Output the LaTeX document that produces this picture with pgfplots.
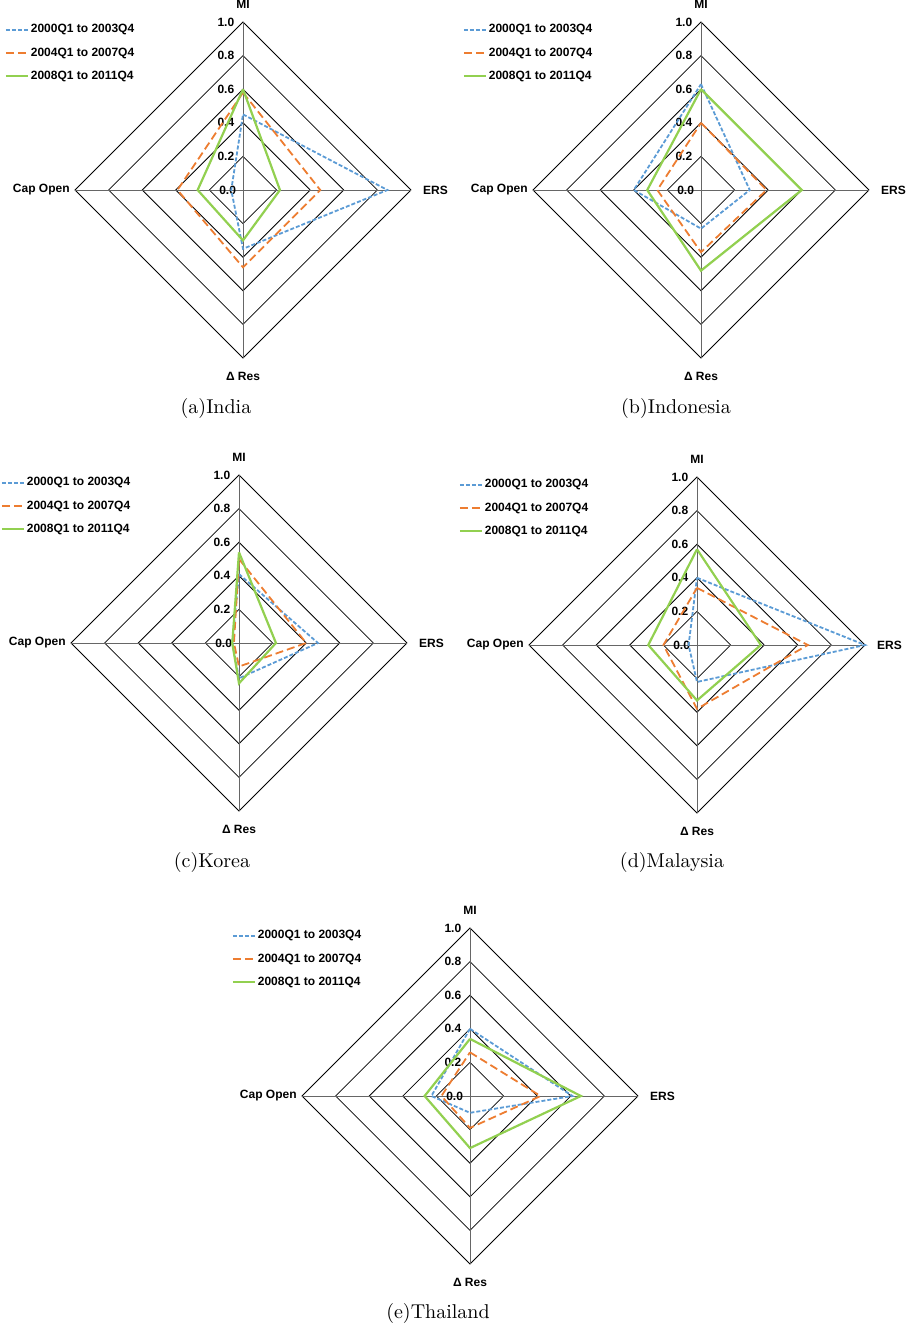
\documentclass[border=0pt]{standalone}
\usepackage{pgfplots}
\pgfplotsset{compat=1.18}
\usepackage{fontspec}
\newfontfamily\arial{Liberation Sans}
\definecolor{cb}{RGB}{91,155,213}
\definecolor{co}{RGB}{237,125,49}
\definecolor{cg}{RGB}{146,208,80}
\newcommand\radarframe{%
 \addplot[black,forget plot] coordinates {(0.2,0)(0,0.2)(-0.2,0)(0,-0.2)(0.2,0)};
 \addplot[black,forget plot] coordinates {(0.4,0)(0,0.4)(-0.4,0)(0,-0.4)(0.4,0)};
 \addplot[black,forget plot] coordinates {(0.6,0)(0,0.6)(-0.6,0)(0,-0.6)(0.6,0)};
 \addplot[black,forget plot] coordinates {(0.8,0)(0,0.8)(-0.8,0)(0,-0.8)(0.8,0)};
 \addplot[black,forget plot] coordinates {(1,0)(0,1)(-1,0)(0,-1)(1,0)};
 \addplot[black!60,forget plot] coordinates {(-1,0)(1,0)};
 \addplot[black!60,forget plot] coordinates {(0,-1)(0,1)};
 \node[anchor=east] at (axis cs:0,0) {0.0};
 \node[anchor=east] at (axis cs:-0.01,0.2) {0.2};
 \node[anchor=east] at (axis cs:-0.01,0.4) {0.4};
 \node[anchor=east] at (axis cs:-0.01,0.6) {0.6};
 \node[anchor=east] at (axis cs:-0.01,0.8) {0.8};
 \node[anchor=east] at (axis cs:-0.01,1.0) {1.0};
 \node[anchor=south] at (axis cs:0,1.04) {MI};
 \node[anchor=west] at (axis cs:1.03,0) {ERS};
 \node[anchor=north] at (axis cs:0,-1.04) {Δ Res};
 \node[anchor=east] at (axis cs:-0.99,0) {Cap Open};
}
\pgfplotsset{radar/.style={x=84pt,y=84pt,xmin=-1,xmax=1,ymin=-1,ymax=1,hide axis,clip=false,anchor=origin,
  font=\arial\bfseries\fontsize{6}{7}\selectfont,
  legend style={draw=none,fill=none,at={(axis cs:-1.42,1.0)},anchor=north west,font=\arial\bfseries\fontsize{6}{7}\selectfont,row sep=4pt,inner sep=0pt,nodes={inner sep=1pt}},
  legend cell align=left,
  legend image code/.code={\draw[##1,line width=1pt] (0pt,0.3pt) -- (11pt,0.3pt);},
 },
 sb/.style={cb,line width=0.9pt,dash pattern=on 2pt off 1pt},
 so/.style={co,line width=0.9pt,dash pattern=on 4pt off 2pt},
 sg/.style={cg,line width=1.1pt},
}
\newcommand\la{\addlegendentry{2000Q1 to 2003Q4}}
\newcommand\lb{\addlegendentry{2004Q1 to 2007Q4}}
\newcommand\lc{\addlegendentry{2008Q1 to 2011Q4}}
\begin{document}
\begin{tikzpicture}
\useasboundingbox (0,0) rectangle (453pt,-665pt);
% India
\begin{axis}[radar,at={(121.5pt,-95pt)}]
\radarframe
\addplot[sb] coordinates {(0,0.45)(0.86,0)(0,-0.35)(-0.07,0)(0,0.45)};\la
\addplot[so] coordinates {(0,0.58)(0.46,0)(0,-0.46)(-0.39,0)(0,0.58)};\lb
\addplot[sg] coordinates {(0,0.60)(0.22,0)(0,-0.30)(-0.27,0)(0,0.60)};\lc
\end{axis}
% Indonesia
\begin{axis}[radar,at={(350.5pt,-95pt)}]
\radarframe
\addplot[sb] coordinates {(0,0.63)(0.29,0)(0,-0.23)(-0.40,0)(0,0.63)};\la
\addplot[so] coordinates {(0,0.40)(0.39,0)(0,-0.37)(-0.26,0)(0,0.40)};\lb
\addplot[sg] coordinates {(0,0.60)(0.60,0)(0,-0.48)(-0.32,0)(0,0.60)};\lc
\end{axis}
% Korea
\begin{axis}[radar,at={(119.5pt,-321.5pt)}]
\radarframe
\addplot[sb] coordinates {(0,0.41)(0.47,0)(0,-0.21)(-0.04,0)(0,0.41)};\la
\addplot[so] coordinates {(0,0.50)(0.40,0)(0,-0.14)(-0.03,0)(0,0.50)};\lb
\addplot[sg] coordinates {(0,0.54)(0.22,0)(0,-0.24)(-0.04,0)(0,0.54)};\lc
\end{axis}
% Malaysia
\begin{axis}[radar,at={(348.5pt,-322.5pt)}]
\radarframe
\addplot[sb] coordinates {(0,0.40)(1.0,0)(0,-0.22)(-0.05,0)(0,0.40)};\la
\addplot[so] coordinates {(0,0.34)(0.66,0)(0,-0.38)(-0.20,0)(0,0.34)};\lb
\addplot[sg] coordinates {(0,0.57)(0.38,0)(0,-0.33)(-0.29,0)(0,0.57)};\lc
\end{axis}
% Thailand
\begin{axis}[radar,at={(235pt,-548pt)}]
\radarframe
\addplot[sb] coordinates {(0,0.40)(0.61,0)(0,-0.10)(-0.23,0)(0,0.40)};\la
\addplot[so] coordinates {(0,0.26)(0.42,0)(0,-0.19)(-0.17,0)(0,0.26)};\lb
\addplot[sg] coordinates {(0,0.34)(0.66,0)(0,-0.31)(-0.27,0)(0,0.34)};\lc
\end{axis}
\node at (108pt,-204pt) {(a)India};
\node at (338pt,-204pt) {(b)Indonesia};
\node at (106pt,-431pt) {(c)Korea};
\node at (336pt,-431pt) {(d)Malaysia};
\node at (219pt,-656.5pt) {(e)Thailand};
\end{tikzpicture}
\end{document}
